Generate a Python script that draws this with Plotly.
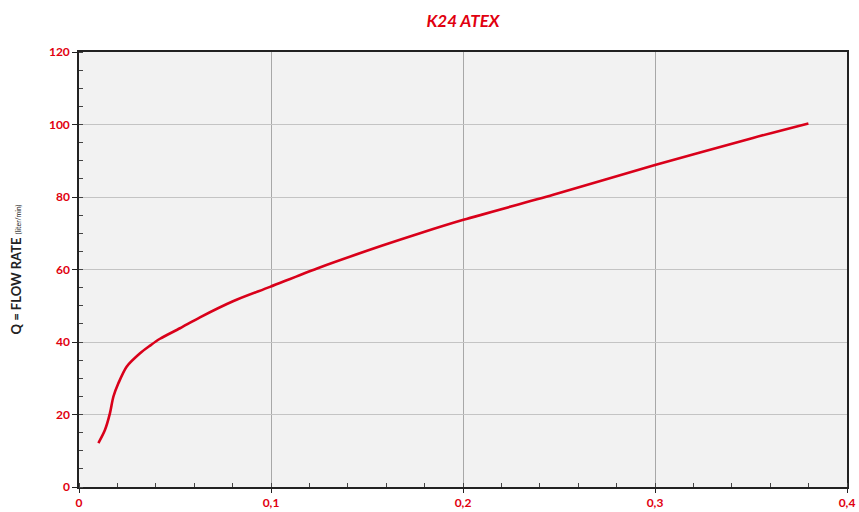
import plotly.graph_objects as go

# Data
pressure = [0.0101, 0.0135, 0.0161, 0.0179, 0.0205, 0.0248, 0.0318, 0.037, 0.0422,
            0.0526, 0.063, 0.0805, 0.0995, 0.124, 0.158, 0.1776, 0.2002, 0.247,
            0.300, 0.351, 0.3799]
flow = [12.1, 15.7, 20.3, 24.9, 28.6, 33.2, 36.9, 39.0, 40.9,
        43.8, 46.8, 51.3, 55.2, 60.3, 66.6, 70.0, 73.7, 80.6,
        88.8, 96.3, 100.3]

x_ticks = [0, 0.1, 0.2, 0.3, 0.4]
y_ticks = [0, 20, 40, 60, 80, 100, 120]

RED = "#e1000f"
FONT = "Lato, 'Open Sans', sans-serif"

fig = go.Figure()
fig.add_trace(go.Scatter(
    x=pressure, y=flow, mode="lines",
    line=dict(color="#d9001a", width=2.6, shape="spline", smoothing=0.8),
    showlegend=False, hoverinfo="skip",
))

fig.update_layout(
    width=859, height=512,
    margin=dict(l=79, r=12, t=52, b=25, autoexpand=False),
    paper_bgcolor="white",
    plot_bgcolor="#f2f2f2",
    separators=",.",
    title=dict(text="<b><i>K24 ATEX</i></b>", x=463 / 859, xanchor="center",
               y=1 - 21 / 512, yanchor="middle",
               font=dict(family=FONT, size=17, color=RED)),
    font=dict(family=FONT),
)

fig.update_xaxes(
    range=[0, 0.4], tickvals=x_ticks, ticktext=["0", "0,1", "0,2", "0,3", "0,4"],
    automargin=False,
    showgrid=True, gridcolor="#a8a8a8", gridwidth=1,
    showline=True, linecolor="#222222", linewidth=1.5, mirror=True,
    ticks="outside", ticklen=4, tickcolor="#222222",
    minor=dict(dtick=0.02, ticks="inside", ticklen=4, tickcolor="#444444", showgrid=False),
    tickfont=dict(family=FONT, size=12, color=RED, weight="bold"),
    zeroline=False,
)
fig.update_yaxes(
    range=[0, 120], tickvals=y_ticks,
    automargin=False,
    showgrid=True, gridcolor="#c4c4c4", gridwidth=1,
    showline=True, linecolor="#222222", linewidth=1.5, mirror=True,
    ticks="outside", ticklen=5, tickcolor="#222222",
    minor=dict(dtick=5, ticks="inside", ticklen=4, tickcolor="#444444", showgrid=False),
    tickfont=dict(family=FONT, size=12, color=RED, weight="bold"),
    zeroline=False,
    title=dict(text="<b>Q = FLOW RATE</b> <span style='font-size:7px'>(liter/min)</span>",
               font=dict(family=FONT, size=13, color="#222222"), standoff=24),
)

fig.write_html("out.html", config={"displayModeBar": False},
               post_script="document.body.style.margin='0';document.body.style.overflow='hidden';")
